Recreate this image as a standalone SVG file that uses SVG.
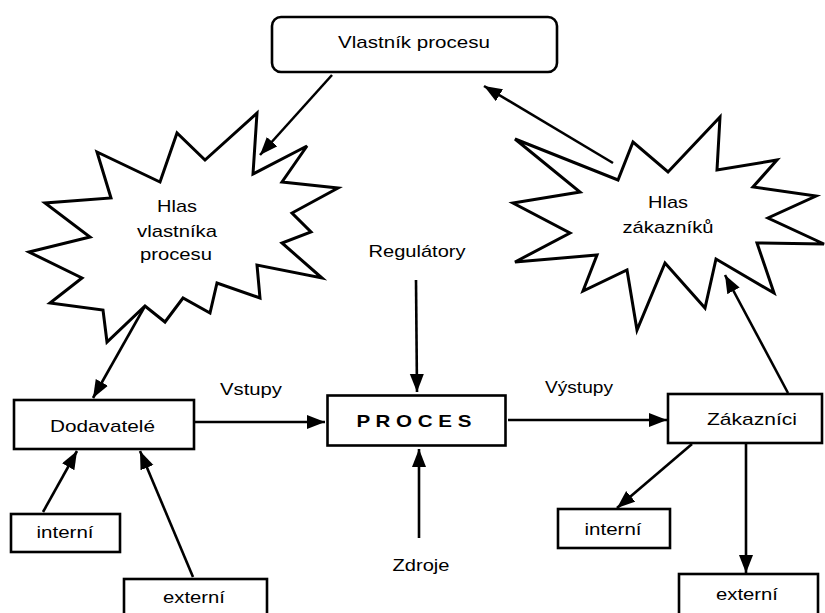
<svg xmlns="http://www.w3.org/2000/svg" width="825" height="613" viewBox="0 0 825 613">
  <style>
    .box { fill: #fff; stroke: #000; stroke-width: 2.6; }
    .burst { fill: #fff; stroke: #000; stroke-width: 3; stroke-linejoin: miter; }
    .lbl { font-family: "Liberation Sans", Arial, Helvetica, sans-serif; font-size: 17px; fill: #000; text-anchor: middle; }
    .bold { font-weight: bold; }
    .conn { stroke: #000; stroke-width: 2.6; fill: none; marker-end: url(#head); }
  </style>
  <defs>
    <marker id="head" markerUnits="userSpaceOnUse" markerWidth="20" markerHeight="16" refX="18" refY="7" orient="auto">
      <path d="M0,0 L18,7 L0,14 z" fill="#000"/>
    </marker>
  </defs>
  <rect width="825" height="613" fill="#fff"/>

  <g id="connectors">
    <line class="conn" x1="332" y1="75" x2="260" y2="155"/>
    <line class="conn" x1="613" y1="163" x2="484" y2="86"/>
    <line class="conn" x1="145" y1="306" x2="93" y2="398"/>
    <line class="conn" x1="43" y1="512" x2="77" y2="451"/>
    <line class="conn" x1="193" y1="577" x2="140" y2="451"/>
    <line class="conn" x1="195" y1="422" x2="325" y2="422"/>
    <line class="conn" x1="416" y1="280" x2="417" y2="392"/>
    <line class="conn" x1="419" y1="538" x2="419" y2="449"/>
    <line class="conn" x1="508" y1="420" x2="667" y2="420"/>
    <line class="conn" x1="692" y1="444" x2="617" y2="508"/>
    <line class="conn" x1="746" y1="444" x2="746" y2="573"/>
    <line class="conn" x1="788" y1="393" x2="725" y2="275"/>
  </g>

  <g id="vlastnik">
    <rect class="box" x="272" y="17" width="285" height="55" rx="9" stroke-width="3"/>
    <text class="lbl" x="414" y="48" textLength="152" lengthAdjust="spacingAndGlyphs">Vlastník procesu</text>
  </g>

  <g id="hlas-vlastnika">
    <polygon class="burst" points="257,113 253,174 307,146 282,182 338,188 292,213 311,232 282,243 322,278 257,265 260,298 217,283 210,313 183,298 165,322 145,306 107,342 103,310 50,303 82,278 29,252 90,237 45,203 111,198 97,152 160,182 177,133 205,160"/>
    <text class="lbl" x="177" y="212" textLength="40" lengthAdjust="spacingAndGlyphs">Hlas</text>
    <text class="lbl" x="177" y="237" textLength="80" lengthAdjust="spacingAndGlyphs">vlastníka</text>
    <text class="lbl" x="176" y="260" textLength="72" lengthAdjust="spacingAndGlyphs">procesu</text>
  </g>

  <g id="hlas-zakazniku">
    <polygon class="burst" points="515,139 618,180 633,142 668,172 720,117 717,170 777,160 753,187 816,196 768,218 824,244 757,243 774,293 716,259 705,308 665,263 637,330 627,270 583,291 597,255 515,262 570,233 513,203 580,192"/>
    <text class="lbl" x="668" y="208" textLength="40" lengthAdjust="spacingAndGlyphs">Hlas</text>
    <text class="lbl" x="668" y="233" textLength="91" lengthAdjust="spacingAndGlyphs">zákazníků</text>
  </g>

  <g id="regulatory">
    <text class="lbl" x="417" y="257" textLength="97" lengthAdjust="spacingAndGlyphs">Regulátory</text>
  </g>

  <g id="zdroje">
    <text class="lbl" x="421" y="571" textLength="57" lengthAdjust="spacingAndGlyphs">Zdroje</text>
  </g>

  <g id="vstupy">
    <text class="lbl" x="251" y="395" textLength="62" lengthAdjust="spacingAndGlyphs">Vstupy</text>
  </g>

  <g id="vystupy">
    <text class="lbl" x="579" y="393" textLength="68" lengthAdjust="spacingAndGlyphs">Výstupy</text>
  </g>

  <g id="proces">
    <rect class="box" x="327.5" y="395.5" width="178" height="50" stroke-width="5"/>
    <text class="lbl bold" x="414" y="427" textLength="115" lengthAdjust="spacingAndGlyphs">P R O C E S</text>
  </g>

  <g id="dodavatele">
    <rect class="box" x="14" y="400" width="180" height="49"/>
    <text class="lbl" x="102.5" y="432" textLength="105" lengthAdjust="spacingAndGlyphs">Dodavatelé</text>
  </g>

  <g id="dodavatele-interni">
    <rect class="box" x="11" y="514" width="109" height="38"/>
    <text class="lbl" x="65" y="538" textLength="57" lengthAdjust="spacingAndGlyphs">interní</text>
  </g>

  <g id="dodavatele-externi">
    <rect class="box" x="124" y="579" width="143" height="40"/>
    <text class="lbl" x="194" y="603" textLength="62" lengthAdjust="spacingAndGlyphs">externí</text>
  </g>

  <g id="zakaznici">
    <rect class="box" x="668" y="394" width="154" height="49"/>
    <text class="lbl" x="752" y="425" textLength="90" lengthAdjust="spacingAndGlyphs">Zákazníci</text>
  </g>

  <g id="zakaznici-interni">
    <rect class="box" x="558" y="509" width="112" height="39"/>
    <text class="lbl" x="613" y="535" textLength="57" lengthAdjust="spacingAndGlyphs">interní</text>
  </g>

  <g id="zakaznici-externi">
    <rect class="box" x="679" y="574" width="139" height="45"/>
    <text class="lbl" x="747" y="600" textLength="62" lengthAdjust="spacingAndGlyphs">externí</text>
  </g>
</svg>
